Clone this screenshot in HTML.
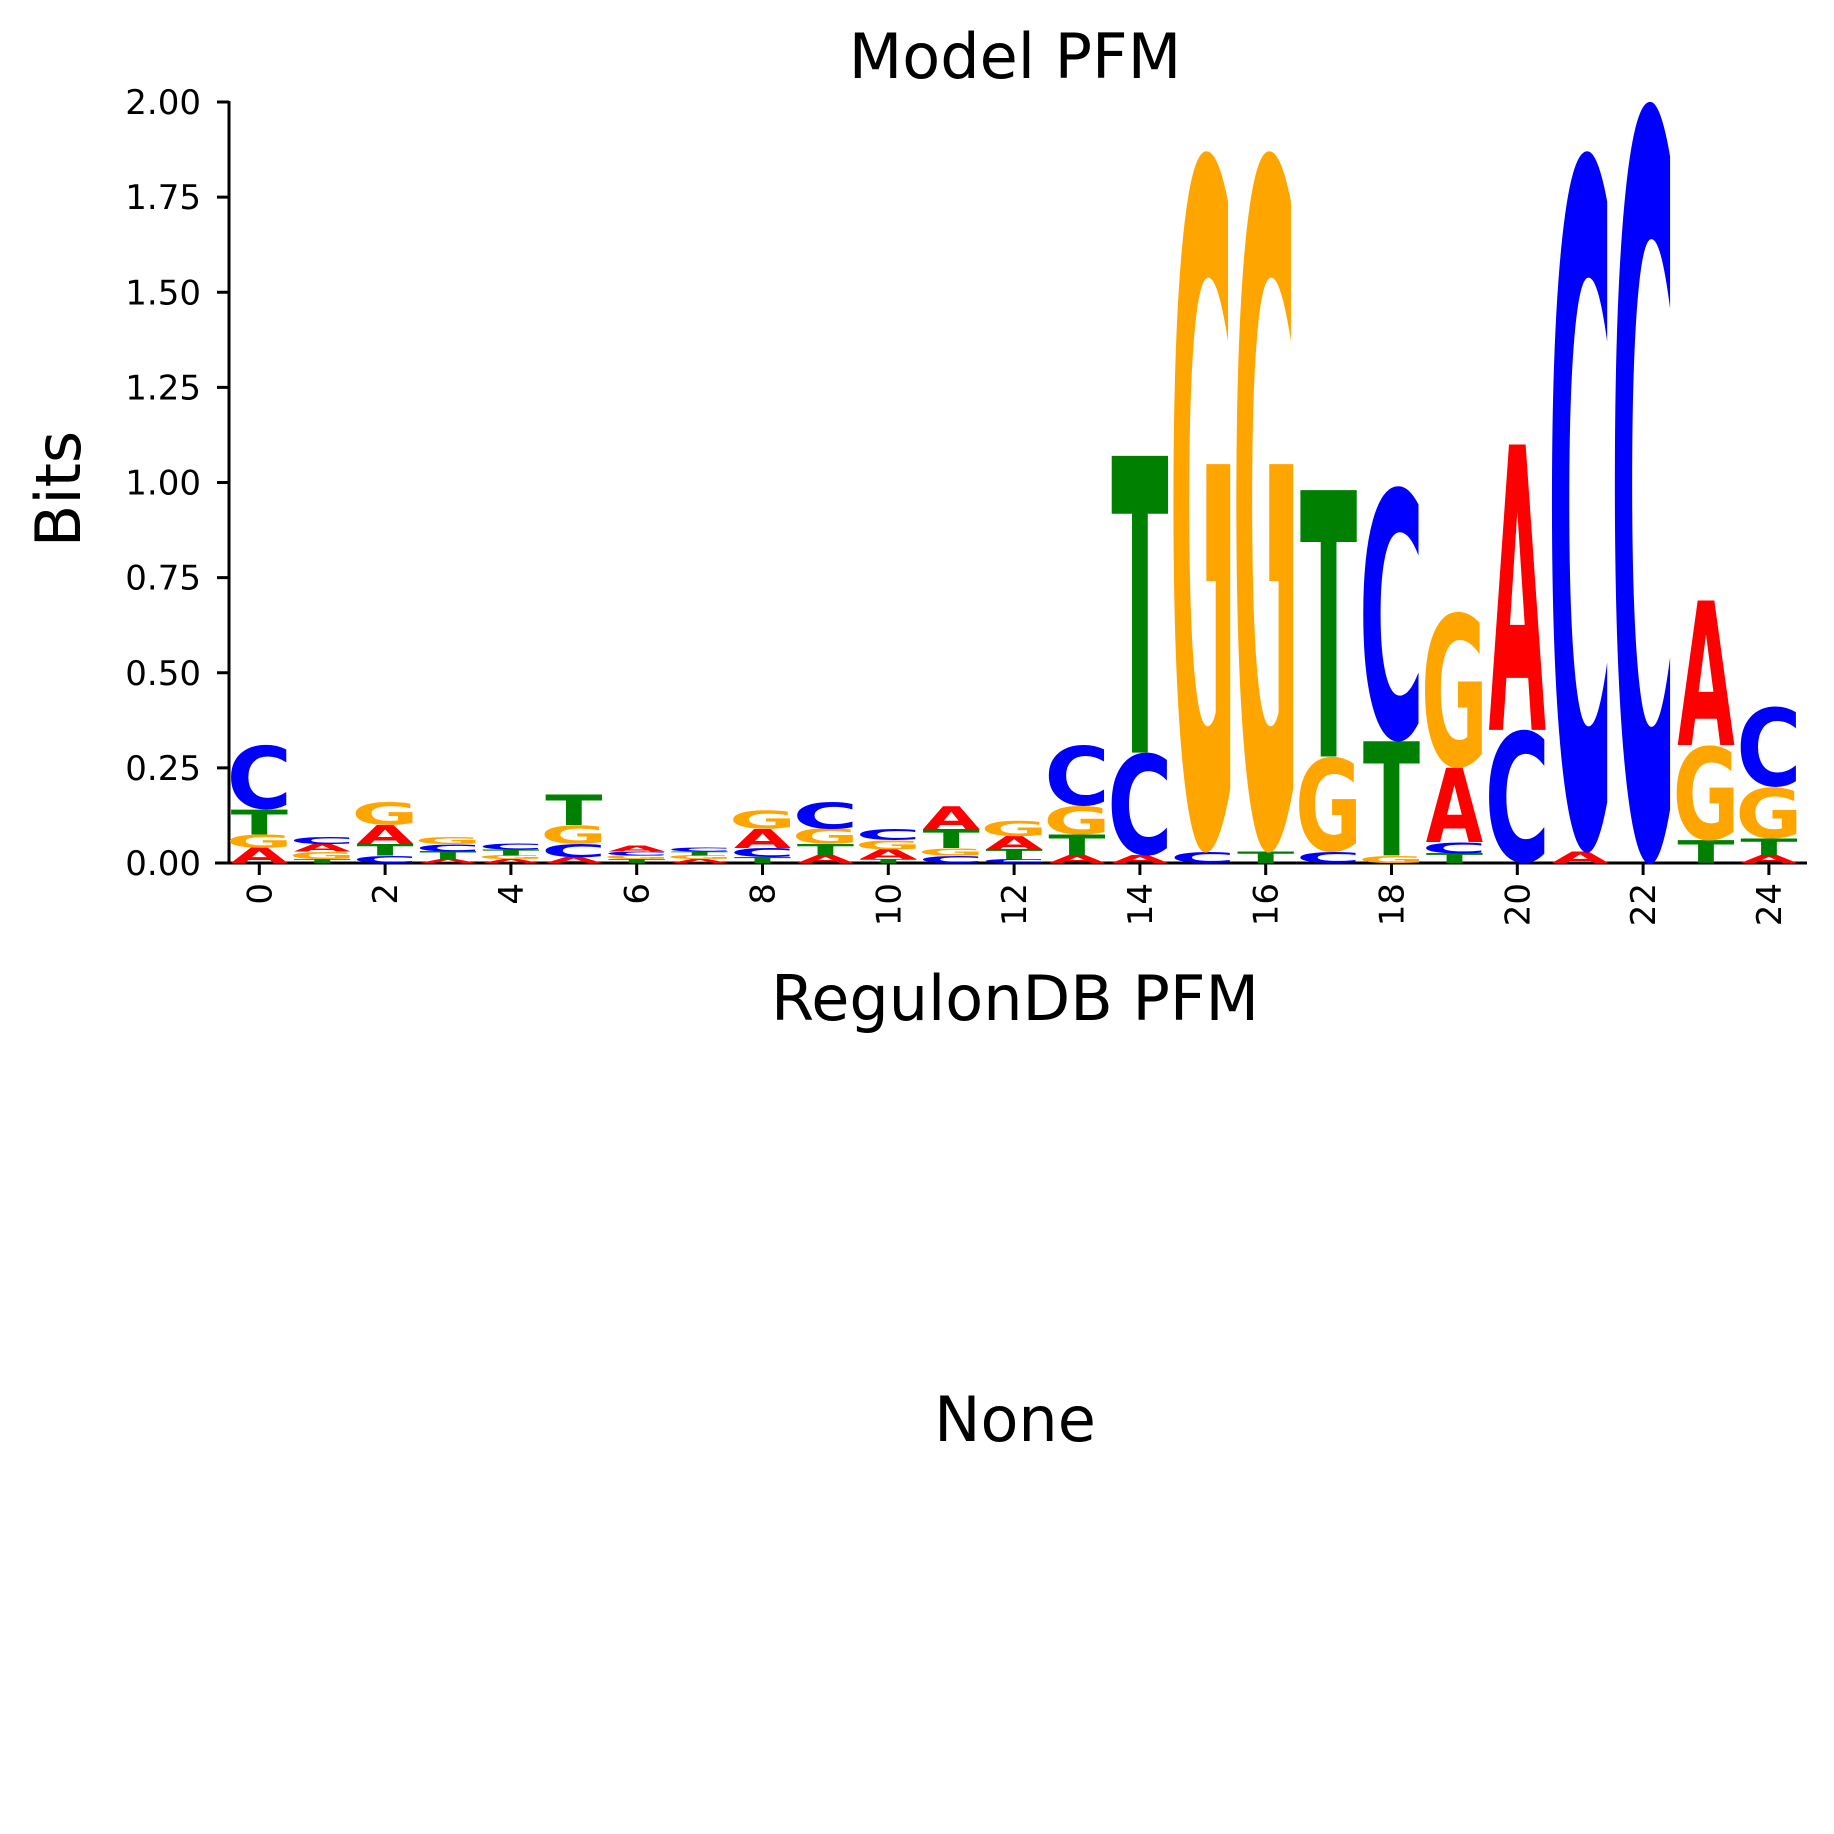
<!DOCTYPE html>
<html><head><meta charset="utf-8"><style>
html,body{margin:0;padding:0;background:#fff;}
svg{display:block;font-family:"DejaVu Sans","Liberation Sans",sans-serif;}
</style></head><body>
<svg id="chart" width="1834" height="1834" viewBox="0 0 1834 1834" xmlns="http://www.w3.org/2000/svg">
<rect width="1834" height="1834" fill="#fff"/>
<text x="1015" y="78" font-size="62" text-anchor="middle">Model PFM</text>
<text x="1015" y="1020" font-size="62" text-anchor="middle">RegulonDB PFM</text>
<text x="1015" y="1441" font-size="62" text-anchor="middle">None</text>
<text transform="translate(80,489) rotate(-90)" font-size="62" text-anchor="middle">Bits</text>
<g id="axes"></g>
<g id="letters"></g>
</svg>
<script>
// Data: per position stacks (bottom to top) of [letter, bits]
const positions = [0,1,2,3,4,5,6,7,8,9,10,11,12,13,14,15,16,17,18,19,20,21,22,23,24];
const stackLetters = [
 ["A","G","T","C"],["T","G","A","C"],["C","T","A","G"],["A","T","C","G"],["A","G","T","C"],
 ["A","C","G","T"],["T","G","C","A"],["A","G","T","C"],["T","C","A","G"],["A","T","G","C"],
 ["T","A","G","C"],["C","G","T","A"],["C","T","A","G"],["A","T","G","C"],["A","C","T"],
 ["C","G"],["T","G"],["C","G","T"],["G","T","C"],["T","C","A","G"],
 ["C","A"],["A","C"],["C"],["T","G","A"],["A","T","G","C"]
];
const stackHeights = [
 [0.04,0.035,0.065,0.17],[0.01,0.02,0.02,0.02],[0.02,0.03,0.05,0.06],[0.01,0.02,0.02,0.02],[0.01,0.01,0.015,0.015],
 [0.015,0.035,0.05,0.08],[0.01,0.01,0.01,0.015],[0.01,0.01,0.01,0.01],[0.015,0.025,0.05,0.05],[0.02,0.03,0.04,0.07],
 [0.01,0.025,0.025,0.03],[0.02,0.02,0.05,0.06],[0.01,0.025,0.035,0.04],[0.02,0.055,0.075,0.16],[0.02,0.27,0.78],
 [0.03,1.84],[0.03,1.84],[0.03,0.25,0.70],[0.02,0.30,0.67],[0.025,0.03,0.195,0.41],
 [0.35,0.75],[0.03,1.84],[2.0],[0.06,0.25,0.38],[0.02,0.045,0.135,0.21]
];
const yTicks = [0,0.25,0.5,0.75,1,1.25,1.5,1.75,2];
const yTickLabels = ["0.00","0.25","0.50","0.75","1.00","1.25","1.50","1.75","2.00"];
const xTicks = [0,2,4,6,8,10,12,14,16,18,20,22,24];

const NS="http://www.w3.org/2000/svg";
const X0=259.3, DX=62.9, Y0=863, PPB=380.5;
const xS = p => X0 + p*DX;
const yS = v => Y0 - v*PPB;
const colors={A:"#ff0000",C:"#0000ff",G:"#ffa500",T:"#008000"};
const inkW={A:77,C:64,G:70,T:68};
const capH={A:72.9,C:75.5,G:75.5,T:72.9};
const LW=57;

const axes=document.getElementById('axes');
function line(x1,y1,x2,y2,name){
 const l=document.createElementNS(NS,'line');
 l.setAttribute('x1',x1);l.setAttribute('y1',y1);l.setAttribute('x2',x2);l.setAttribute('y2',y2);
 l.setAttribute('stroke','#000');l.setAttribute('stroke-width','3');
 
 
 axes.appendChild(l);
}
line(229,yS(2)-1,229,Y0+1.5,'y-axis-line');
line(215,Y0,1807,Y0,'x-axis-line');
yTicks.forEach((v,i)=>{
 line(217,yS(v),229,yS(v),'y-tick');
 const t=document.createElementNS(NS,'text');
 t.setAttribute('x',201);t.setAttribute('y',yS(v)+12);t.setAttribute('font-size','34');t.setAttribute('text-anchor','end');
 t.textContent=yTickLabels[i];
 
 
 axes.appendChild(t);
});
xTicks.forEach(p=>{
 line(xS(p),Y0,xS(p),Y0+12,'x-tick');
 const t=document.createElementNS(NS,'text');
 t.setAttribute('transform',`translate(${xS(p)+12},883) rotate(-90)`);
 t.setAttribute('font-size','34');t.setAttribute('text-anchor','end');
 t.textContent=String(p);
 
 
 axes.appendChild(t);
});

const lg=document.getElementById('letters');
positions.forEach((p,i)=>{
 let base=0;
 stackLetters[i].forEach((L,j)=>{
  const h=stackHeights[i][j];
  const bot=yS(base), top=yS(base+h);
  const hp=bot-top;
  if(hp>0.2){
   const t=document.createElementNS(NS,'text');
   t.setAttribute('font-size','100');t.setAttribute('font-weight','bold');
   t.setAttribute('text-anchor','middle');t.setAttribute('fill',colors[L]);
   const sx=LW/inkW[L], sy=hp/capH[L];
   const off=(L==='C'||L==='G')?1.3:0;
   t.setAttribute('transform',`translate(${xS(p)},${bot}) scale(${sx},${sy}) translate(0,${-off})`);
   t.textContent=L;
   
   
   lg.appendChild(t);
  }
  base+=h;
 });
});
</script>
</body></html>
